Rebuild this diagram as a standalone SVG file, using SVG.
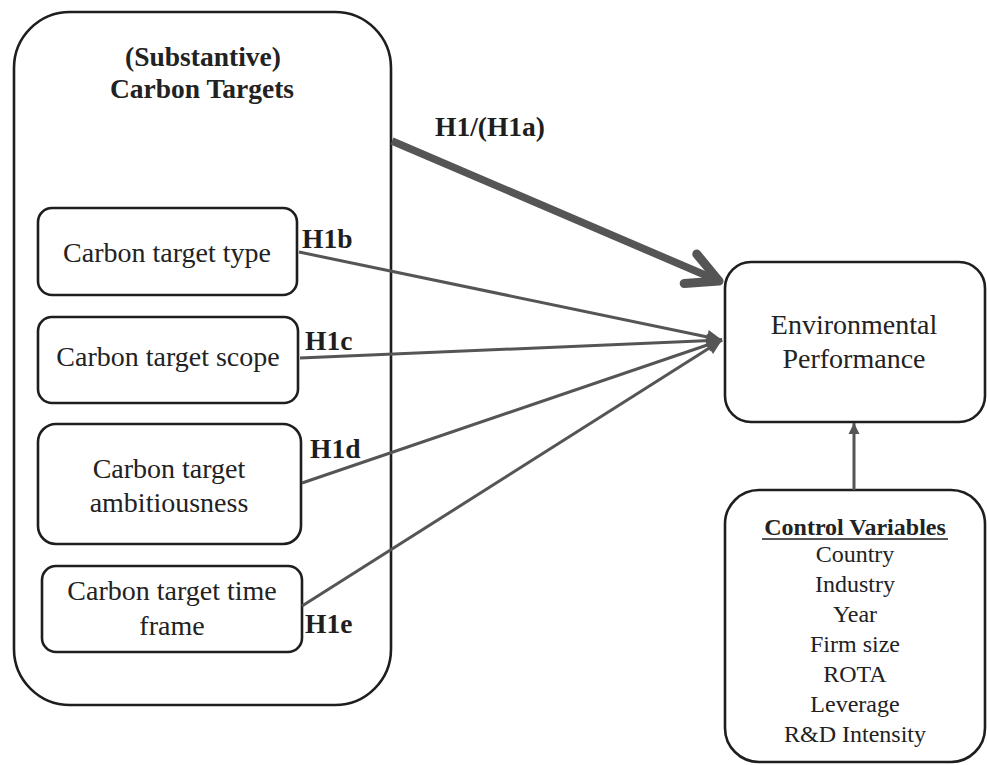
<svg xmlns="http://www.w3.org/2000/svg" width="987" height="765" viewBox="0 0 987 765">
<style>
.box{fill:#fff;stroke:#1e1e1e;stroke-width:2.6}
.t{font-family:"Liberation Serif","Times New Roman",serif;font-size:28px;fill:#222;text-anchor:middle}
.b{font-weight:bold;font-size:27.5px}
.lbl{font-family:"Liberation Serif","Times New Roman",serif;font-size:27.5px;font-weight:bold;fill:#1e1e1e}
.cv{font-family:"Liberation Serif","Times New Roman",serif;font-size:24px;fill:#222;text-anchor:middle}
.cvh{font-weight:bold;font-size:24px}
.thin{stroke:#555;stroke-width:3;fill:none}
</style>
<defs>
<marker id="tri" markerUnits="userSpaceOnUse" viewBox="-16 -8 18 16" markerWidth="18" markerHeight="16" refX="0" refY="0" orient="auto" overflow="visible">
<path d="M0 0 L-15 -7 L-15 7 Z" fill="#555"/>
</marker>
<marker id="tri2" markerUnits="userSpaceOnUse" viewBox="-12 -6 14 12" markerWidth="14" markerHeight="12" refX="0" refY="0" orient="auto" overflow="visible">
<path d="M0 0 L-11 -5.5 L-11 5.5 Z" fill="#555"/>
</marker>
<marker id="chev" markerUnits="userSpaceOnUse" viewBox="-40 -24 48 48" markerWidth="48" markerHeight="48" refX="0" refY="0" orient="auto" overflow="visible">
<path d="M-31 -16 L0 0 L-31 16" fill="none" stroke="#555" stroke-width="9" stroke-linecap="round" stroke-linejoin="round"/>
</marker>
</defs>

<g id="carbon-targets">
<rect class="box" x="14" y="12" width="377" height="693" rx="56"/>
<text class="t b" x="203" y="66">(Substantive)</text>
<text class="t b" x="202" y="98">Carbon Targets</text>
</g>

<g id="target-type">
<rect class="box" x="38" y="208" width="259" height="87" rx="14"/>
<text class="t" x="167" y="262">Carbon target type</text>
</g>

<g id="target-scope">
<rect class="box" x="38" y="317" width="260" height="86" rx="14"/>
<text class="t" x="168" y="366">Carbon target scope</text>
</g>

<g id="target-ambitiousness">
<rect class="box" x="38" y="424" width="263" height="120" rx="18"/>
<text class="t" x="169" y="478">Carbon target</text>
<text class="t" x="169" y="512">ambitiousness</text>
</g>

<g id="target-time-frame">
<rect class="box" x="42" y="566" width="260" height="86" rx="14"/>
<text class="t" x="172" y="600">Carbon target time</text>
<text class="t" x="172" y="635">frame</text>
</g>

<g id="environmental-performance">
<rect class="box" x="725" y="262" width="260" height="160" rx="26"/>
<text class="t" x="854" y="334">Environmental</text>
<text class="t" x="854" y="368">Performance</text>
</g>

<g id="control-variables">
<rect class="box" x="725" y="490" width="260" height="272" rx="34"/>
<text class="cv cvh" x="855" y="535">Control  Variables</text>
<line x1="762" y1="539" x2="948" y2="539" stroke="#1e1e1e" stroke-width="1.6"/>
<text class="cv" x="855" y="562">Country</text>
<text class="cv" x="855" y="592">Industry</text>
<text class="cv" x="855" y="622">Year</text>
<text class="cv" x="855" y="652">Firm size</text>
<text class="cv" x="855" y="682">ROTA</text>
<text class="cv" x="855" y="712">Leverage</text>
<text class="cv" x="855" y="742">R&amp;D Intensity</text>
</g>

<g id="connectors">
<line x1="392" y1="141" x2="719" y2="281" stroke="#555" stroke-width="7.5" marker-end="url(#chev)"/>
<line class="thin" x1="299" y1="252" x2="722" y2="340" marker-end="url(#tri)"/>
<line class="thin" x1="300" y1="358" x2="722" y2="340" marker-end="url(#tri)"/>
<line class="thin" x1="302" y1="483" x2="722" y2="340" marker-end="url(#tri)"/>
<line class="thin" x1="302" y1="606" x2="722" y2="340" marker-end="url(#tri)"/>
<line class="thin" x1="854" y1="490" x2="854" y2="423" marker-end="url(#tri2)"/>
</g>

<g id="labels">
<text class="lbl" x="435" y="136">H1/(H1a)</text>
<text class="lbl" x="302" y="248">H1b</text>
<text class="lbl" x="305" y="350">H1c</text>
<text class="lbl" x="310" y="458">H1d</text>
<text class="lbl" x="305" y="633">H1e</text>
</g>
</svg>
